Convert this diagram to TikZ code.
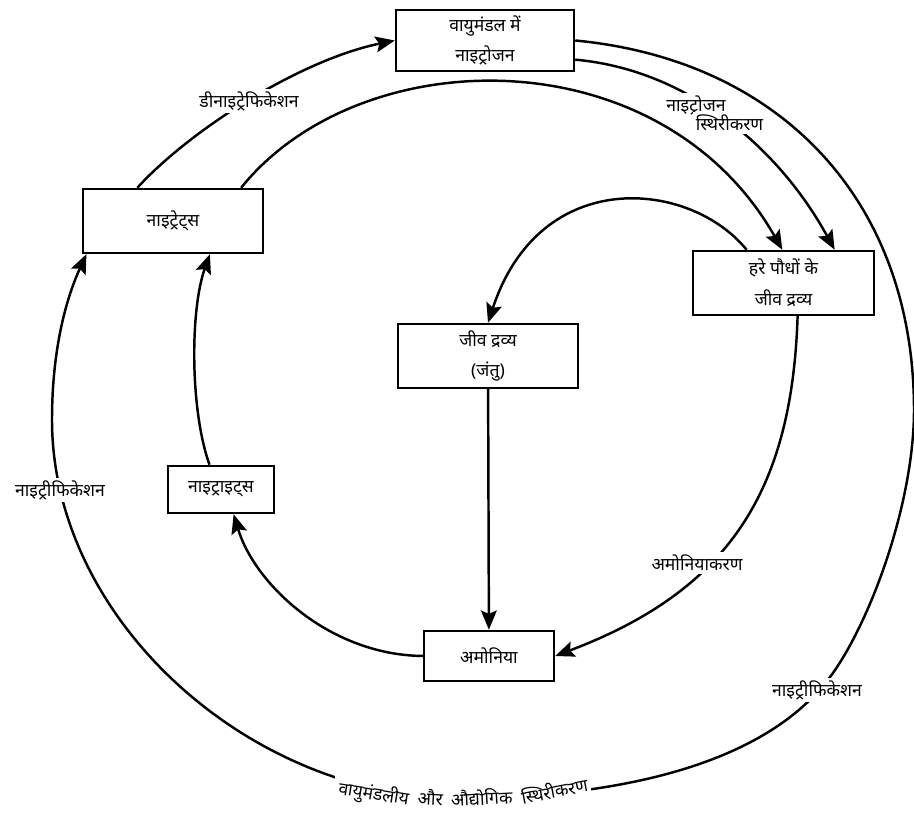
\documentclass[tikz,border=0pt]{standalone}
\usepackage{graphicx}
\usepackage{fontspec}
\newfontfamily\dev[Script=Devanagari]{Noto Sans}
\usetikzlibrary{arrows.meta}

\begin{document}
\begin{tikzpicture}[x=0.02cm,y=0.02cm,>={Stealth[length=11pt,width=9pt,inset=2pt]},
  box/.style={draw,line width=1.4pt,align=center,inner sep=0pt,font=\dev\fontsize{10}{17.5}\selectfont},
  lbl/.style={fill=white,inner sep=1.5pt,font=\dev\fontsize{10}{12}\selectfont},
  link/.style={line width=1.4pt}]
\useasboundingbox (0,0) rectangle (914,820);
% boxes
\node[box,minimum width=3.56cm,minimum height=1.22cm] (atm) at (485,779.5) {वायुमंडल में\\नाइट्रोजन};
\node[box,minimum width=3.6cm,minimum height=1.28cm] (nitrates) at (173,599) {नाइट्रेट्स};
\node[box,minimum width=3.62cm,minimum height=1.28cm] (plants) at (783.5,537) {हरे पौधों के\\जीव द्रव्य};
\node[box,minimum width=3.6cm,minimum height=1.28cm] (animals) at (488,464) {जीव द्रव्य\\(जंतु)};
\node[box,minimum width=2.12cm,minimum height=0.94cm] (nitrites) at (221,330.5) {नाइट्राइट्स};
\node[box,minimum width=2.6cm,minimum height=1cm] (ammonia) at (489,164) {अमोनिया};
% arrows
\draw[link,->] (nitrates.137) .. controls (190,690) and (300,760) .. (atm.west);
\draw[link,->] (nitrates.26) .. controls (360,780) and (660,785) .. (plants.92);
\draw[link,->] (atm.-12) .. controls (690,750) and (780,670) .. (plants.33);
\draw[link,->] (plants.138) .. controls (690,640) and (540,655) .. (animals.north);
\draw[link,->] (animals) -- (ammonia);
\draw[link,->] (plants.-67) .. controls (792,330) and (730,230) .. (ammonia.east);
\draw[link,->] (ammonia.west) .. controls (330,165) and (255,235) .. (nitrites.-63);
\draw[link,->] (nitrites.115) .. controls (190,410) and (190,510) .. (nitrates.-42);
% outer loop
\draw[link,->] (atm.east) .. controls (780,760) and (914,620) .. (914,410)
  .. controls (914,320) and (873,204) .. (833,147)
  .. controls (764,49) and (600,22) .. (460,22)
  .. controls (250,22) and (52,200) .. (52,400)
  .. controls (52,480) and (70,530) .. (nitrates.-159);
% labels
\node[lbl] (denitr) at (249,719) {डीनाइट्रेफिकेशन};
\node[lbl] (nfixA) at (696,715) {नाइट्रोजन};
\node[lbl] (nfixB) at (729.5,697) {स्थिरीकरण};
\node[lbl] (ammonif) at (697,257) {अमोनियाकरण};
\node[lbl] (nitrifR) at (817,130) {नाइट्रीफिकेशन};
\node[lbl] (nitrifL) at (60,330) {नाइट्रीफिकेशन};
\node[lbl,inner xsep=1pt] (fix) at (463,27) {\raisebox{3pt}{\rotatebox[origin=c]{-9}{वायुमंडलीय}}\hspace{4pt}\rotatebox[origin=c]{-3}{और}\hspace{4pt}\rotatebox[origin=c]{3}{औद्योगिक}\hspace{4pt}\raisebox{4pt}{\rotatebox[origin=c]{11}{स्थिरीकरण}}};
\end{tikzpicture}
\end{document}
